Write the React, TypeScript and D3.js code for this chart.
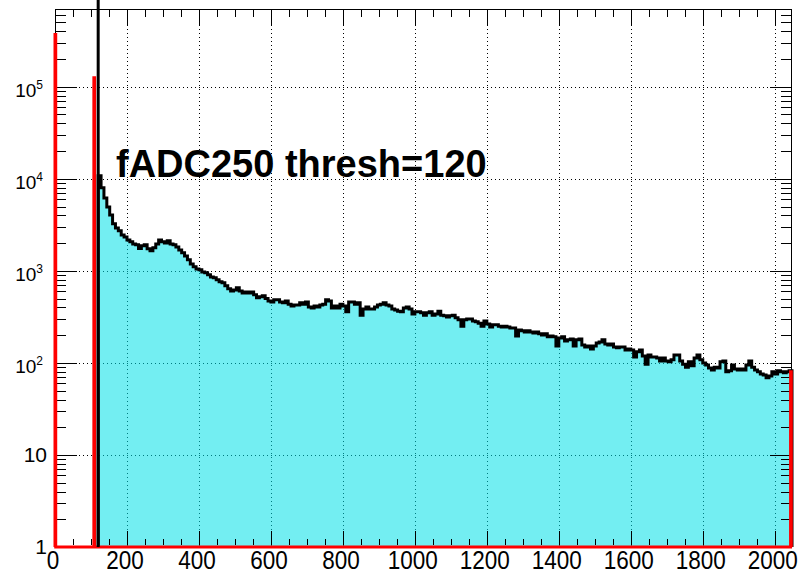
import React from 'react';
import * as d3 from 'd3';

const width = 799;
const height = 573;
const frame = { left: 55, right: 792, top: 9, bottom: 547 };

// histogram binning
const xMax = 2048;
const binWidth = 8;
const firstBinLow = 120;
const yMin = 1;
const yMax = 7e5;

// fADC250 counts, bins of 8 starting at 120
const counts = [
  10800, 8000, 6200, 4950, 4050, 3250, 2930, 2720, 2460, 2340,
  2170, 2070, 1960, 1920, 1750, 1870, 1920, 1740, 1650, 1780,
  1960, 2170, 2070, 2010, 2120, 1960, 1920, 1820, 1690, 1570,
  1450, 1320, 1190, 1110, 1050, 1030, 975, 955, 905, 860,
  840, 800, 760, 745, 690, 640, 605, 620, 655, 605,
  575, 590, 575, 590, 550, 510, 525, 535, 500, 470,
  460, 485, 485, 460, 450, 470, 435, 415, 425, 425,
  450, 435, 460, 405, 395, 415, 405, 425, 435, 485,
  470, 395, 415, 395, 435, 415, 360, 460, 460, 435,
  450, 330, 385, 405, 385, 385, 405, 425, 435, 450,
  425, 415, 385, 375, 365, 360, 395, 405, 385, 340,
  360, 360, 350, 330, 350, 360, 330, 340, 365, 330,
  325, 315, 325, 330, 310, 295, 250, 295, 300, 300,
  285, 280, 270, 250, 285, 265, 245, 260, 260, 250,
  245, 250, 245, 240, 240, 196, 228, 223, 217, 223,
  217, 212, 217, 207, 201, 207, 192, 196, 192, 153,
  187, 192, 173, 178, 182, 153, 178, 182, 157, 149,
  153, 142, 153, 165, 169, 178, 161, 157, 161, 149,
  146, 149, 149, 138, 142, 138, 116, 132, 138, 119,
  97, 122, 116, 116, 113, 105, 113, 105, 103, 108,
  122, 122, 105, 97, 90, 103, 93, 113, 122, 108,
  100, 95, 88, 84, 90, 88, 103, 105, 80, 82,
  95, 86, 84, 86, 84, 95, 105, 90, 84, 80,
  76, 74, 69, 72, 80, 76, 82, 80, 78, 80,
  82,
];

// red histogram (fine bins): only three filled bins
const redBinWidth = 2;
const redLowEdges = [0, 108, 2044];
const redCounts = [370000, 125000, 80];

const threshold = 120;
const title = 'fADC250 thresh=120';

const xMajorTicks = [0, 200, 400, 600, 800, 1000, 1200, 1400, 1600, 1800, 2000];
const xTickLabels = ['0', '200', '400', '600', '800', '1000', '1200', '1400', '1600', '1800', '2000'];
const yDecades = [1, 10, 100, 1000, 10000, 100000];
const yExponents = ['', '', '2', '3', '4', '5'];
const yBases = ['1', '10', '10', '10', '10', '10'];

const font = '"Liberation Sans", Arial, Helvetica, sans-serif';

const App = () => {
  const x = d3.scaleLinear().domain([0, xMax]).range([frame.left, frame.right]);
  const y = d3.scaleLog().domain([yMin, yMax]).range([frame.bottom, frame.top]);
  const yv = (v: number) => (v > 0 ? y(v) : frame.bottom);

  const line = d3.line<[number, number]>().x(d => d[0]).y(d => d[1]);

  // black histogram
  const blackPts: [number, number][] = [[x(firstBinLow), frame.bottom]];
  counts.forEach((c, i) => {
    const lo = firstBinLow + i * binWidth;
    blackPts.push([x(lo), yv(c)]);
    blackPts.push([x(lo + binWidth), yv(c)]);
  });
  blackPts.push([x(xMax), frame.bottom]);
  const blackPath = line(blackPts) || '';

  // red histogram over full range
  const redPts: [number, number][] = [[x(0), frame.bottom]];
  for (let lo = 0; lo < xMax; lo += redBinWidth) {
    const k = redLowEdges.indexOf(lo);
    const v = k >= 0 ? redCounts[k] : 0;
    redPts.push([x(lo), yv(v)]);
    redPts.push([x(lo + redBinWidth), yv(v)]);
  }
  redPts.push([x(xMax), frame.bottom]);
  const redPath = line(redPts) || '';

  const xMinor = d3.range(0, xMax + 1, 50);
  const yMinor: number[] = [];
  yDecades.forEach(d => {
    for (let m = 2; m <= 9; m++) {
      if (d * m < yMax) yMinor.push(d * m);
    }
  });

  const px = (v: number) => Math.round(v) + 0.5;

  return (
    <svg width={width} height={height} style={{ position: 'absolute', left: 0, top: 0, background: '#fff' }}>
      <rect x={0} y={0} width={width} height={height} fill="#fff" />

      {/* grid */}
      <g stroke="#000" strokeWidth={1} strokeDasharray="1 3">
        {xMajorTicks.filter(t => t > 0).map(t => (
          <line key={'gx' + t} x1={px(x(t))} x2={px(x(t))} y1={frame.top} y2={frame.bottom} />
        ))}
        {yDecades.filter(d => d > 1).map(d => (
          <line key={'gy' + d} x1={frame.left} x2={frame.right} y1={px(y(d))} y2={px(y(d))} />
        ))}
      </g>

      <path d={blackPath} fill="#00e0e8" fillOpacity={0.55} stroke="none" />

      {/* frame */}
      <rect x={frame.left + 0.5} y={frame.top + 0.5} width={frame.right - frame.left - 1} height={frame.bottom - frame.top - 1}
        fill="none" stroke="#000" strokeWidth={1} />

      {/* ticks */}
      <g stroke="#000" strokeWidth={1}>
        {xMinor.map(t => {
          const len = t % 200 === 0 ? 16 : 8;
          const xx = px(x(t));
          return (
            <g key={'xt' + t}>
              <line x1={xx} x2={xx} y1={frame.bottom - 2} y2={frame.bottom - len} />
              <line x1={xx} x2={xx} y1={frame.top} y2={frame.top + len} />
            </g>
          );
        })}
        {yDecades.map(d => {
          const yy = px(y(d));
          return (
            <g key={'yt' + d}>
              <line x1={frame.left} x2={frame.left + 22} y1={yy} y2={yy} />
              <line x1={frame.right} x2={frame.right - 22} y1={yy} y2={yy} />
            </g>
          );
        })}
        {yMinor.map(d => {
          const yy = px(y(d));
          return (
            <g key={'ym' + d}>
              <line x1={frame.left} x2={frame.left + 11} y1={yy} y2={yy} />
              <line x1={frame.right} x2={frame.right - 11} y1={yy} y2={yy} />
            </g>
          );
        })}
      </g>

      <path d={blackPath} fill="none" stroke="#000" strokeWidth={3} strokeLinejoin="miter" />
      <path d={redPath} fill="none" stroke="#ff0000" strokeWidth={3} strokeLinejoin="miter" />
      <line x1={x(threshold)} x2={x(threshold)} y1={frame.bottom} y2={0} stroke="#000" strokeWidth={3} />

      {/* x labels */}
      <g fontFamily={font} fontSize={25} fill="#000" textAnchor="middle">
        {xMajorTicks.map((t, i) => (
          <text key={'xl' + t} transform={`translate(${x(t) - 2},569) scale(0.9,1)`}>{xTickLabels[i]}</text>
        ))}
      </g>

      {/* y labels */}
      <g fontFamily={font} fill="#000" textAnchor="end">
        {yDecades.map((d, i) => {
          const yy = y(d);
          if (yExponents[i] === '') {
            return (
              <text key={'yl' + d} x={47} y={yy + 7} fontSize={21}>{yBases[i]}</text>
            );
          }
          return (
            <text key={'yl' + d} x={43} y={yy + 10} fontSize={19}>
              {yBases[i]}
              <tspan dy={-8} fontSize={12}>{yExponents[i]}</tspan>
            </text>
          );
        })}
      </g>

      <text x={116} y={177} fontFamily={font} fontWeight="bold" fontSize={38} fill="#000">{title}</text>
    </svg>
  );
};

export default App;
